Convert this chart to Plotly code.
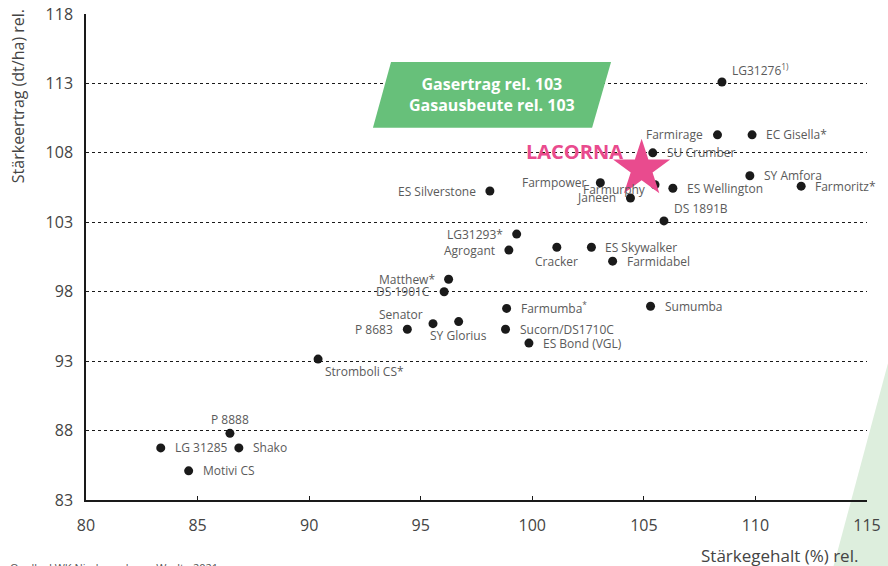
import plotly.graph_objects as go

# Sorten: Stärkegehalt (x) und Stärkeertrag (y), jeweils relativ
sorten = ["LG31276<sup>1)</sup>", "Farmirage", "EC Gisella*", "SU Crumber", "Farmpower",
          "Farmurphy", "ES Wellington", "Janeen", "SY Amfora", "Farmoritz*",
          "DS 1891B", "ES Silverstone", "LG31293*", "Agrogant", "Cracker",
          "ES Skywalker", "Farmidabel", "Matthew*", "DS 1901C", "Farmumba<sup>*</sup>",
          "Sumumba", "Senator", "SY Glorius", "P 8683", "Sucorn/DS1710C",
          "ES Bond (VGL)", "Stromboli CS*", "P 8888", "LG 31285", "Shako", "Motivi CS"]
staerkegehalt = [108.5, 108.3, 109.85, 105.4, 103.05,
                 105.5, 106.3, 104.4, 109.75, 112.05,
                 105.9, 98.1, 99.3, 98.95, 101.1,
                 102.65, 103.6, 96.25, 96.05, 98.85,
                 105.3, 95.55, 96.7, 94.4, 98.8,
                 99.85, 90.4, 86.45, 83.35, 86.85, 84.6]
staerkeertrag = [113.1, 109.3, 109.3, 108.0, 105.85,
                 105.7, 105.45, 104.75, 106.35, 105.6,
                 103.1, 105.25, 102.15, 101.0, 101.2,
                 101.2, 100.2, 98.9, 98.0, 96.8,
                 96.95, 95.7, 95.85, 95.3, 95.3,
                 94.3, 93.15, 87.8, 86.75, 86.75, 85.1]
# Lage der Beschriftung zum Punkt
label_pos = ["top right", "left", "right", "right", "left",
             "low left", "right", "left", "right", "right",
             "top right", "left", "left", "left", "bottom",
             "right", "right", "left", "left", "right",
             "right", "top left", "bottom", "left", "right",
             "right", "bottom right", "top", "right", "right",
             "right"]

lacorna_x = [104.9]
lacorna_y = [106.85]

x_ticks = [80, 85, 90, 95, 100, 105, 110, 115]
y_ticks = [83, 88, 93, 98, 103, 108, 113, 118]

# Versatz (xanchor, xshift, yshift) je Lage
offsets = {
    "right": ("left", 12, 0),
    "left": ("right", -12, 0),
    "low left": ("right", -7, -5),
    "top": ("center", 0, 14),
    "bottom": ("center", 0, -14),
    "top right": ("left", 8, 12),
    "top left": ("right", -8, 9),
    "bottom right": ("left", 5, -12),
}

fig = go.Figure()

fig.add_trace(go.Scatter(
    x=staerkegehalt, y=staerkeertrag, mode="markers",
    marker=dict(color="#1a1a1a", size=9),
    cliponaxis=False, showlegend=False, hoverinfo="skip",
))

for name, xv, yv, pos in zip(sorten, staerkegehalt, staerkeertrag, label_pos):
    xa, xs, ys = offsets[pos]
    fig.add_annotation(x=xv, y=yv, text=name, showarrow=False,
                       xanchor=xa, yanchor="middle", xshift=xs, yshift=ys,
                       font=dict(family="Open Sans", size=12, color="#5a5a5a"))

fig.add_trace(go.Scatter(
    x=lacorna_x, y=lacorna_y, mode="markers",
    marker=dict(symbol="star", color="#E94B8E", size=43, line=dict(width=0)),
    showlegend=False,
))

# grünes Parallelogramm mit Gaswerten
fig.add_shape(type="path", xref="x", yref="y",
              path="M 93.67 114.55 L 103.53 114.55 L 102.68 109.8 L 92.86 109.8 Z",
              fillcolor="#67C07A", line=dict(width=0), layer="above")
fig.add_annotation(x=98.2, y=112.2, xref="x", yref="y", showarrow=False,
                   text="<b>Gasertrag rel. 103</b><br><b>Gasausbeute rel. 103</b>",
                   font=dict(family="Open Sans", size=16, color="white"), align="center")
fig.add_annotation(x=101.9, y=108.1, xref="x", yref="y", showarrow=False,
                   text="<b>LACORNA</b>",
                   font=dict(family="Open Sans", size=20, color="#E94B8E"))

# hellgrüne Fläche rechts unten
fig.add_shape(type="path", xref="paper", yref="paper",
              path="M 0.9565 -0.14 L 1.05 0.42 L 1.05 -0.14 Z",
              fillcolor="#DDEEDD", line=dict(width=0), layer="below")

# Achsentitel
fig.add_annotation(x=-0.087, y=0.831, xref="paper", yref="paper", showarrow=False,
                   xanchor="center", yanchor="middle",
                   text="Stärkeertrag (dt/ha) rel.", textangle=-90,
                   font=dict(family="Open Sans", size=16, color="#444444"))
fig.add_annotation(x=0.991, y=-0.115, xref="paper", yref="paper", showarrow=False,
                   xanchor="right", yanchor="middle", text="Stärkegehalt (%) rel.",
                   font=dict(family="Open Sans", size=17, color="#444444"))
fig.add_annotation(x=-0.1, y=-0.12, xref="paper", yref="paper", showarrow=False,
                   xanchor="left", yanchor="top", text="Quelle: LWK Niedersachsen, Werlte 2021",
                   font=dict(family="Open Sans", size=11, color="#555555"))

fig.update_xaxes(range=[80, 115], tickvals=x_ticks, showgrid=False, zeroline=False,
                 showline=True, linecolor="#1a1a1a", linewidth=1.5, automargin=False,
                 ticks="inside", ticklen=4, tickcolor="#1a1a1a", ticklabelstandoff=10,
                 tickfont=dict(family="Open Sans", size=16, color="#444444"))
fig.update_yaxes(range=[83, 118], tickvals=y_ticks, showgrid=True, gridcolor="#1a1a1a",
                 griddash="dot", gridwidth=1, zeroline=False, automargin=False,
                 showline=True, linecolor="#1a1a1a", linewidth=1.5, ticks="",
                 ticklabelstandoff=8,
                 tickfont=dict(family="Open Sans", size=16, color="#444444"))

fig.update_layout(
    width=888, height=566,
    margin=dict(l=86, r=21, t=14, b=66),
    paper_bgcolor="white", plot_bgcolor="rgba(0,0,0,0)",
)

# Seitenrand des Browsers entfernen, damit die Grafik bei 0,0 beginnt
fig.write_html("out.html", config={"displayModeBar": False},
               post_script="document.body.style.margin='0';")
